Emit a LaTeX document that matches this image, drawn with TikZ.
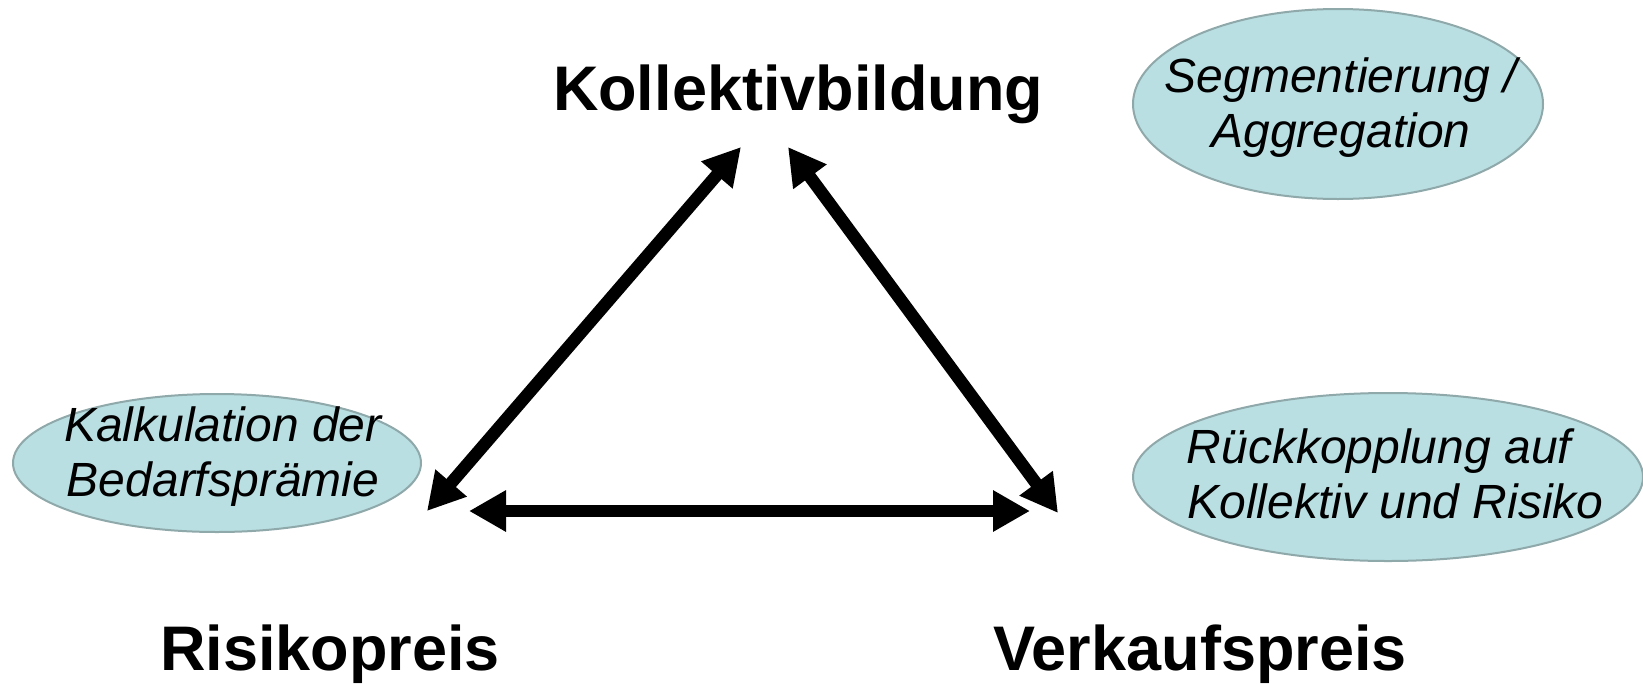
\documentclass[tikz,border=0pt]{standalone}
\usepackage{fontspec}
\setmainfont{Liberation Sans}
\usetikzlibrary{arrows.meta,shapes.geometric}
\definecolor{ellfill}{HTML}{B9DFE3}
\definecolor{ellline}{HTML}{8FA8AA}
\tikzset{
  title/.style={font=\fontsize{63}{70}\selectfont\bfseries, anchor=base, inner sep=0},
  bubble/.style={ellipse, draw=ellline, line width=2pt, fill=ellfill, inner sep=0},
  bubbletext/.style={inner sep=0, align=center, font=\fontsize{48}{55}\selectfont\itshape},
  bigarrow/.style={line width=12.5pt, {Triangle[length=37pt,width=39pt]}-{Triangle[length=37pt,width=39pt]}}
}
\begin{document}
\begin{tikzpicture}[x=1pt,y=-1pt]
\useasboundingbox (0,0) rectangle (1643,683);
% titles
\node[title] (kb) at (798,110) {Kollektivbildung};
\node[title] (rp) at (330,670) {Risikopreis};
\node[title] (vp) at (1200,670) {Verkaufspreis};
% bubbles
\node[bubble, minimum width=410pt, minimum height=190pt] (seg) at (1338,104) {};
\node[bubble, minimum width=408pt, minimum height=138pt] (kal) at (217,463) {};
\node[bubble, minimum width=510pt, minimum height=168pt] (rue) at (1388,477) {};
\node[bubbletext] (segt) at ([xshift=3pt,yshift=-4pt]seg.center) {Segmentierung /\\Aggregation};
\node[bubbletext] (kalt) at ([xshift=6pt,yshift=6pt]kal.center) {Kalkulation der\\Bedarfsprämie};
\node[bubbletext] (ruet) at ([yshift=3pt]rue.center) {Rückkopplung auf\hspace*{18pt}\\\hspace*{15pt}Kollektiv und Risiko};
% arrow end points
\coordinate (kb-l) at (741,147);
\coordinate (kb-r) at (788,147);
\coordinate (rp-u) at (427,511);
\coordinate (rp-r) at (469,511);
\coordinate (vp-u) at (1058,513);
\coordinate (vp-l) at (1030,511);
% arrows
\draw[bigarrow] (rp-u) -- (kb-l);
\draw[bigarrow] (kb-r) -- (vp-u);
\draw[bigarrow] (rp-r) -- (vp-l);
\end{tikzpicture}
\end{document}
